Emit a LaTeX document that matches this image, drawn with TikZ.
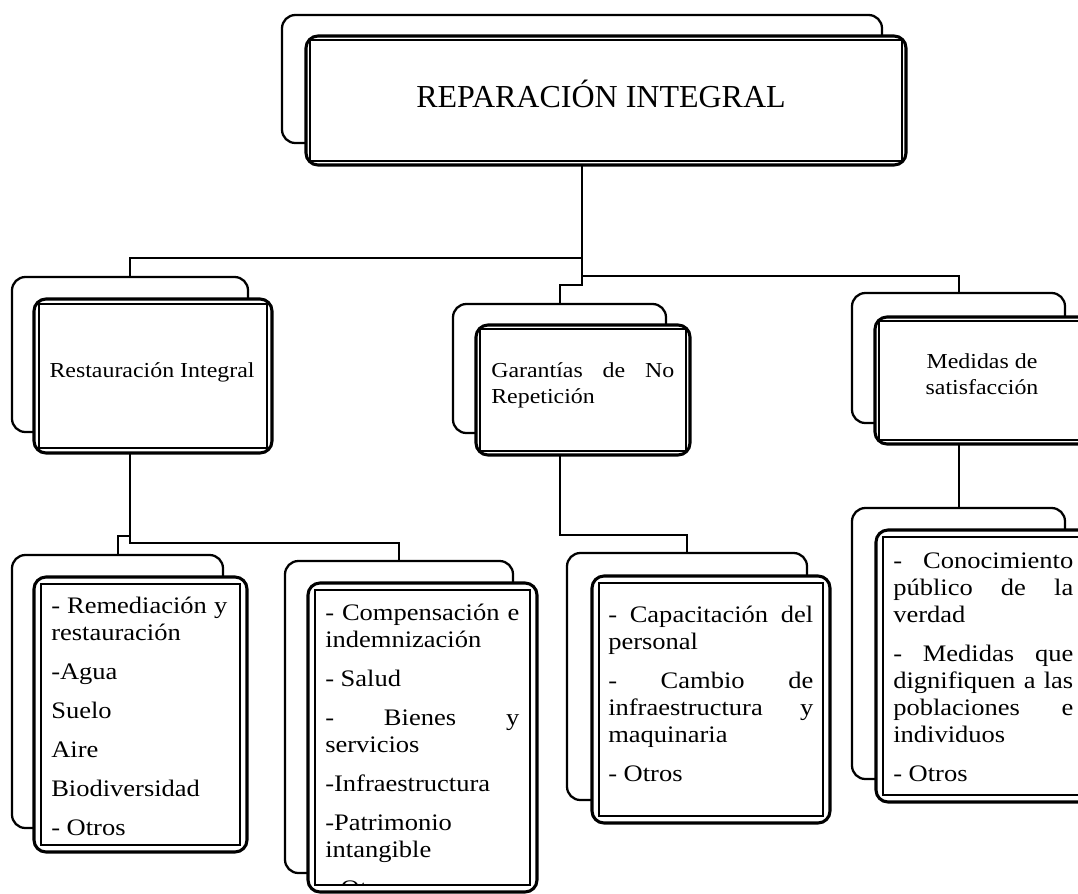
\documentclass[tikz,border=0pt]{standalone}
\usepackage{fontspec}
\setmainfont{Liberation Serif}
\newfontfamily\boxfont[FakeStretch=1.12]{Liberation Serif}
\usetikzlibrary{fit}
\newcommand{\boxlist}[2]{\parbox[t]{#1}{\setlength{\parskip}{9pt}\hyphenpenalty=10000 \exhyphenpenalty=10000 #2}}

\begin{document}
\begin{tikzpicture}[
        x=0.75pt, y=-0.75pt,
        backbox/.style={rectangle, draw, line width=1.7pt, rounded corners=10pt, fill=white, inner sep=0pt, outer sep=0pt},
        frontbox/.style={rectangle, draw, line width=2.3pt, rounded corners=9pt, fill=white, inner sep=0pt, outer sep=0pt},
        inline/.style={line width=1.1pt},
        link/.style={line width=1.5pt},
        toptext/.style={font=\fontsize{24pt}{28pt}\selectfont, inner sep=0pt, anchor=base},
        midtext/.style={font=\boxfont\fontsize{16pt}{19.5pt}\selectfont, inner sep=0pt},
        listtext/.style={font=\boxfont\fontsize{17.75pt}{20.25pt}\selectfont, inner sep=0pt, anchor=base west},
    ]
        \useasboundingbox (0,0) rectangle (1078,893);
        \clip (0,0) rectangle (1078,893);

        % Top box
        \node[backbox, fit={(282,15) (882,143)}] (topB) {};
        \node[frontbox, fit={(306,36) (906,165)}] (topF) {};

        % Second row
        \node[backbox, fit={(12,277) (248,432)}] (restB) {};
        \node[frontbox, fit={(34,299) (272,453)}] (restF) {};
        \node[backbox, fit={(453,304) (666,433)}] (garB) {};
        \node[frontbox, fit={(476,325) (690,455)}] (garF) {};
        \node[backbox, fit={(852,293) (1065,423)}] (medB) {};
        \node[frontbox, fit={(875,317) (1090,444)}] (medF) {};

        % Third row
        \node[backbox, fit={(12,555) (223,828)}] (remB) {};
        \node[frontbox, fit={(34,577) (247,852)}] (remF) {};
        \node[backbox, fit={(285,561) (513,873)}] (compB) {};
        \node[frontbox, fit={(308,583) (537,892)}] (compF) {};
        \node[backbox, fit={(567,553) (807,800)}] (capB) {};
        \node[frontbox, fit={(592,576) (830,823)}] (capF) {};
        \node[backbox, fit={(852,508) (1065,779)}] (conB) {};
        \node[frontbox, fit={(876,530) (1090,802)}] (conF) {};

        % inner lines of the front boxes
        \foreach \b/\d in {topF/4, restF/5, garF/4, medF/4, remF/7, compF/7, capF/7, conF/7}
            \draw[inline] ([shift={(\d,\d)}]\b.north west) rectangle ([shift={(-\d,-\d)}]\b.south east);

        % Texts
        \node[toptext] (topT) at (601,107) {REPARACIÓN INTEGRAL};
        \node[midtext, anchor=base] (restT) at (152,377) {Restauración Integral};
        \node[midtext, anchor=base west] (garT) at (491,377) {\parbox[t]{137.25pt}{Garantías de No\linebreak Repetición}};
        \node[midtext, anchor=base] (medT) at (982,368) {\parbox[t]{150pt}{\centering Medidas de\\ satisfacción}};

        \node[listtext] (remT) at (51,613) {\boxlist{132pt}{- Remediación y\linebreak restauración\par -Agua\par Suelo\par Aire\par Biodiversidad\par - Otros}};
        \begin{scope}
            \clip ([shift={(7,7)}]compF.north west) rectangle ([shift={(-7,-7)}]compF.south east);
            \node[listtext] (compT) at (325,620) {\boxlist{145.5pt}{- Compensación e\linebreak indemnización\par - Salud\par - Bienes y\linebreak servicios\par -Infraestructura\par -Patrimonio\newline intangible\par - Otros}};
        \end{scope}
        \node[listtext] (capT) at (608,622) {\boxlist{153.75pt}{- Capacitación del\linebreak personal\par - Cambio de\linebreak infraestructura y\linebreak maquinaria\par - Otros}};
        \node[listtext] (conT) at (893,568) {\boxlist{135pt}{- Conocimiento\linebreak público de la\linebreak verdad\par - Medidas que\linebreak dignifiquen a las\linebreak poblaciones e\linebreak individuos\par - Otros}};

        % Connectors
        \draw[link] (topB.south |- topF.south) -- ++(0,120) -| (garB.north);
        \draw[link] (topB.south |- topF.south) ++(0,93) -| (restB.north);
        \draw[link] (topB.south |- topF.south) ++(0,111) -| (medB.north);
        \draw[link] (restB.south |- restF.south) -- ++(0,90) -| (compB.north);
        \draw[link] (restB.south |- restF.south) ++(0,83) -| (remB.north);
        \draw[link] (garB.south |- garF.south) -- ++(0,80) -| (capB.north);
        \draw[link] (medB.south |- medF.south) -- (conB.north);
    \end{tikzpicture}
\end{document}
